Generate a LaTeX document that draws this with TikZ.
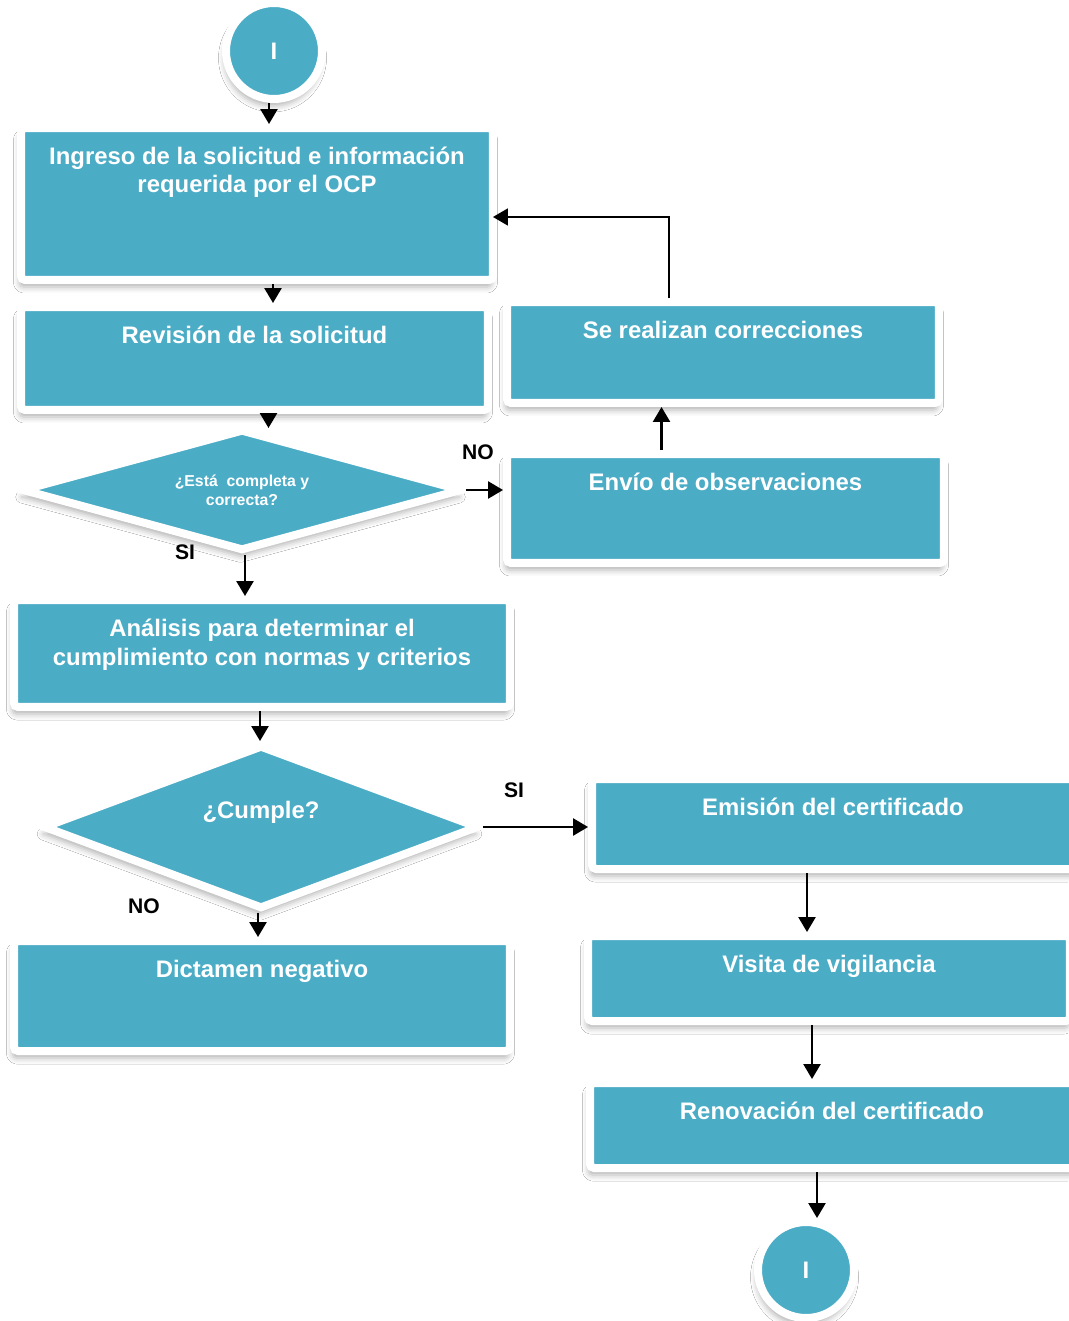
\documentclass[tikz,border=0pt]{standalone}
\usepackage{fontspec}
\setmainfont{Liberation Sans}
\usepackage{tikz}
\usetikzlibrary{shapes.geometric}
\usetikzlibrary{arrows.meta}
\usetikzlibrary{shadows.blur}
\definecolor{azulcaja}{RGB}{75,172,198}

\tikzset{
   sombra/.style={
      blur shadow={
         shadow xshift=-0.03cm,
         shadow yshift=-0.14cm,
         shadow blur radius=0.12cm,
         shadow opacity=30
      }
   },
   caja/.style={
      rectangle,
      rounded corners=0.08cm,
      fill=azulcaja,
      draw=white,
      line width=0.16cm,
      sombra
   },
   rombo/.style={
      diamond,
      fill=azulcaja,
      draw=white,
      line width=0.16cm,
      inner sep=0pt,
      sombra
   },
   terminal/.style={
      circle,
      fill=azulcaja,
      draw=white,
      line width=0.16cm,
      minimum size=1.92cm,
      text=white,
      font=\bfseries\fontsize{13.6}{16}\selectfont,
      sombra
   },
   texto/.style={
      text=white,
      font=\bfseries\fontsize{13.6}{16}\selectfont,
      align=center,
      inner sep=0pt
   },
   arriba/.style={texto, anchor=north, yshift=-0.46cm},
   textochico/.style={
      text=white,
      font=\bfseries\fontsize{9}{10.8}\selectfont,
      align=center,
      inner sep=0pt
   },
   rotulo/.style={
      text=black,
      font=\bfseries\fontsize{12}{14}\selectfont,
      inner sep=0pt
   },
   flecha/.style={
      -{Triangle[length=0.3cm, width=0.34cm]},
      line width=0.05cm,
      black
   }
}

\begin{document}
\begin{tikzpicture}[x=0.02cm, y=-0.02cm]
   \fill[white] (0,0) rectangle (1068,1321);
   \useasboundingbox (0,0) rectangle (1068,1321);

   % columna izquierda
   \node[terminal] (inicio) at (274,51) {I};

   \node[
      caja,
      minimum width=9.44cm,
      minimum height=3.04cm,
      label={[arriba]north:{Ingreso de la solicitud e información\\requerida por el OCP}}
   ] (ingreso) at (257,204) {};

   \node[
      caja,
      minimum width=9.34cm,
      minimum height=2.06cm,
      label={[arriba]north:{Revisión de la solicitud}}
   ] (revision) at (254.5,358.5) {};

   \node[
      rombo,
      minimum width=8.82cm,
      minimum height=2.44cm,
      label={[textochico]center:{¿Está~ completa y\\correcta?}}
   ] (completa) at (242,490) {};

   \node[
      caja,
      minimum width=9.92cm,
      minimum height=2.14cm,
      label={[arriba]north:{Análisis para determinar el\\cumplimiento con normas y criterios}}
   ] (analisis) at (262,653.5) {};

   \node[
      rombo,
      minimum width=8.72cm,
      minimum height=3.28cm,
      label={[texto, yshift=0.3cm]center:{¿Cumple?}}
   ] (cumple) at (261,827) {};

   \node[
      caja,
      minimum width=9.92cm,
      minimum height=2.2cm,
      label={[arriba]north:{Dictamen negativo}}
   ] (dictamen) at (262,996) {};

   % columna derecha
   \node[
      caja,
      minimum width=8.64cm,
      minimum height=2.02cm,
      label={[arriba]north:{Se realizan correcciones}}
   ] (correcciones) at (723,352.5) {};

   \node[
      caja,
      minimum width=8.74cm,
      minimum height=2.18cm,
      label={[arriba]north:{Envío de observaciones}}
   ] (envio) at (725.5,508.5) {};

   \node[
      caja,
      minimum width=9.64cm,
      minimum height=1.8cm,
      label={[arriba]north:{Emisión del certificado}}
   ] (emision) at (833,824) {};

   \node[
      caja,
      minimum width=9.64cm,
      minimum height=1.7cm,
      label={[arriba]north:{Visita de vigilancia}}
   ] (visita) at (829,978.5) {};

   \node[
      caja,
      minimum width=9.68cm,
      minimum height=1.7cm,
      label={[arriba]north:{Renovación del certificado}}
   ] (renovacion) at (832,1125.5) {};

   \node[terminal] (fin) at (806,1270) {I};

   % rotulos
   \node[rotulo] (noA) at (478,452) {NO};
   \node[rotulo] (siA) at (185,552) {SI};
   \node[rotulo] (siB) at (514,790) {SI};
   \node[rotulo] (noB) at (144,906) {NO};

   % conectores
   \draw[flecha] ([xshift=-0.1cm]inicio.south) -- ([xshift=-0.1cm]inicio.south |- ingreso.north);
   \draw[flecha] ([xshift=0.32cm]ingreso.south) -- ([xshift=0.32cm]ingreso.south |- revision.north);
   \draw[flecha] ([xshift=0.28cm]revision.south) -- ([xshift=0.28cm,yshift=-0.06cm]revision.south |- completa.north);
   \draw[flecha] ([xshift=0.06cm]completa.south) -- ([xshift=0.06cm]completa.south |- analisis.north);
   \draw[flecha] (completa.east) -- (completa.east -| envio.west);
   \draw[flecha] ([xshift=-1.28cm]envio.north) -- ([xshift=-1.28cm]envio.north |- correcciones.south);
   \draw[flecha, line width=0.035cm] ([xshift=-1.08cm]correcciones.north) |- ([xshift=-0.08cm,yshift=-0.26cm]ingreso.east);
   \draw[flecha] ([xshift=-0.04cm]analisis.south) -- ([xshift=-0.04cm]analisis.south |- cumple.north);
   \draw[flecha] (cumple.east) -- (cumple.east -| emision.west);
   \draw[flecha] ([xshift=-0.06cm]cumple.south) -- ([xshift=-0.06cm]cumple.south |- dictamen.north);
   \draw[flecha] ([xshift=-0.52cm]emision.south) -- ([xshift=-0.52cm]emision.south |- visita.north);
   \draw[flecha] ([xshift=-0.34cm]visita.south) -- ([xshift=-0.34cm]visita.south |- renovacion.north);
   \draw[flecha] ([xshift=-0.3cm]renovacion.south) -- ([xshift=-0.3cm]renovacion.south |- fin.north);
\end{tikzpicture}
\end{document}
